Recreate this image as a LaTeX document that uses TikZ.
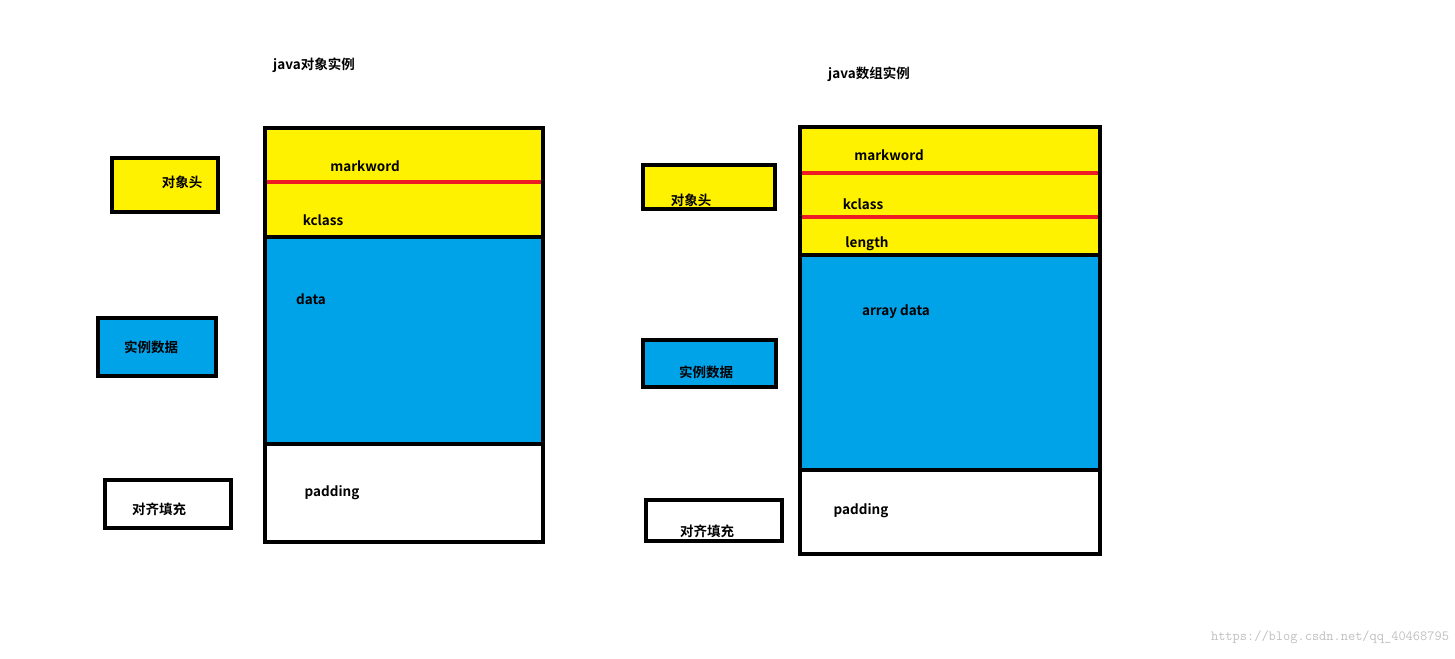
\documentclass[tikz,border=0pt]{standalone}
\usepackage{fontspec}
\setmainfont{Noto Sans CJK SC}[BoldFont={* Bold}]
\definecolor{yel}{HTML}{FFF200}
\definecolor{blu}{HTML}{00A2E8}
\definecolor{rd}{HTML}{ED1C24}
\tikzset{
 box/.style={draw=black,line width=4pt},
 sep/.style={draw=rd,line width=3.5pt},
 lbl/.style={font=\fontsize{13.5pt}{15pt}\selectfont\bfseries,inner sep=0pt},
}
\begin{document}
\begin{tikzpicture}[x=1pt,y=-1pt]
\useasboundingbox (0,0) rectangle (1455,658);
% left object
\path[fill=yel] (265,128) rectangle (543,237);
\path[fill=blu] (265,237) rectangle (543,444);
\draw[sep] (267,182) -- (541,182);
\draw[box] (265,237) -- (543,237) (265,444) -- (543,444);
\draw[box] (265,128) rectangle (543,542);
\node[lbl] (t1) at (314,65) {java对象实例};
\node[lbl] (m1) at (365,166) {markword};
\node[lbl] (k1) at (323,220) {kclass};
\node[lbl] (d1) at (311,299) {data};
\node[lbl] (p1) at (332,493) {padding};
\draw[box,fill=yel] (112,158) rectangle (218,212);
\node[lbl] (h1) at (182,182) {对象头};
\draw[box,fill=blu] (98,318) rectangle (216,376);
\node[lbl] (s1) at (151,347) {实例数据};
\draw[box,fill=white] (105,480) rectangle (231,528);
\node[lbl] (a1) at (159,509) {对齐填充};
% right array
\path[fill=yel] (800,127) rectangle (1100,255);
\path[fill=blu] (800,255) rectangle (1100,470);
\draw[sep] (802,173) -- (1098,173) (802,217) -- (1098,217);
\draw[box] (800,255) -- (1100,255) (800,470) -- (1102,470);
\draw[box] (800,127) rectangle (1100,554);
\node[lbl] (t2) at (869,74) {java数组实例};
\node[lbl] (m2) at (889,155) {markword};
\node[lbl] (k2) at (863,204) {kclass};
\node[lbl] (l2) at (867,244) {length};
\node[lbl] (d2) at (896,312) {array data};
\node[lbl] (p2) at (861,511) {padding};
\draw[box,fill=yel] (643,165) rectangle (775,209);
\node[lbl] (h2) at (691,200) {对象头};
\draw[box,fill=blu] (643,340) rectangle (776,387);
\node[lbl] (s2) at (706,372) {实例数据};
\draw[box,fill=white] (646,500) rectangle (782,541);
\node[lbl] (a2) at (707,531) {对齐填充};
\node[font=\ttfamily\fontsize{14pt}{16pt}\selectfont,text=black!25,inner sep=0pt] (w) at (1330,637) {https://blog.csdn.net/qq\_40468795};
\end{tikzpicture}
\end{document}
